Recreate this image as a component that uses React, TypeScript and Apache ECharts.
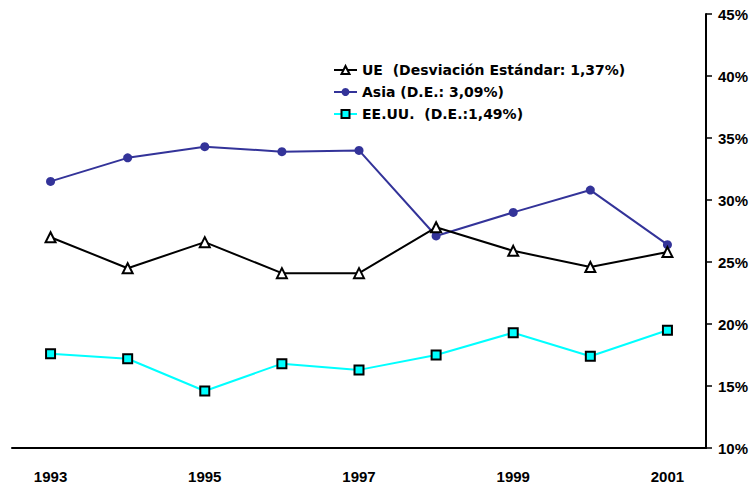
import React, { useEffect, useRef } from "react";
import * as echarts from "echarts";

// Years on the horizontal axis
const years = ["1993", "1994", "1995", "1996", "1997", "1998", "1999", "2000", "2001"];

// Annual rates (%) per region
const ueValues = [27.0, 24.5, 26.6, 24.1, 24.1, 27.8, 25.9, 24.6, 25.8];
const asiaValues = [31.5, 33.4, 34.3, 33.9, 34.0, 27.1, 29.0, 30.8, 26.4];
const usaValues = [17.6, 17.2, 14.6, 16.8, 16.3, 17.5, 19.3, 17.4, 19.5];

// Legend names
const ueName = "UE  (Desviación Estándar: 1,37%)";
const asiaName = "Asia (D.E.: 3,09%)";
const usaName = "EE.UU.  (D.E.:1,49%)";

const AXIS_FONT = "'Liberation Sans', Arial, sans-serif";
const LEGEND_FONT = "'DejaVu Sans', Verdana, sans-serif";

export default function App() {
  const ref = useRef<HTMLDivElement>(null);

  useEffect(() => {
    if (!ref.current) return;
    const chart = echarts.init(ref.current, null, { renderer: "svg" });
    chart.setOption({
      animation: false,
      backgroundColor: "#ffffff",
      textStyle: { fontFamily: AXIS_FONT },
      grid: { left: 12, right: 49, top: 14, bottom: 40, containLabel: false },
      legend: {
        orient: "vertical",
        left: 328,
        top: 58,
        itemWidth: 23,
        itemHeight: 10,
        itemGap: 8,
        textStyle: { fontFamily: LEGEND_FONT, fontWeight: "bold", fontSize: 14, color: "#000" },
        data: [ueName, asiaName, usaName],
      },
      xAxis: {
        type: "category",
        data: years,
        boundaryGap: true,
        axisLine: { lineStyle: { color: "#000", width: 2 } },
        axisTick: { interval: 1, length: 6, lineStyle: { color: "#000", width: 1.5 } },
        axisLabel: {
          interval: 1,
          margin: 21,
          fontFamily: AXIS_FONT,
          fontWeight: "bold",
          fontSize: 15,
          color: "#000",
        },
        splitLine: { show: false },
      },
      yAxis: {
        type: "value",
        position: "right",
        min: 10,
        max: 45,
        interval: 5,
        axisLine: { show: true, lineStyle: { color: "#000", width: 2 } },
        axisTick: { show: true, length: 6, lineStyle: { color: "#000", width: 1.5 } },
        axisLabel: {
          margin: 12,
          fontFamily: AXIS_FONT,
          fontWeight: "bold",
          fontSize: 15,
          color: "#000",
          formatter: "{value}%",
        },
        splitLine: { show: false },
      },
      series: [
        {
          name: ueName,
          type: "line",
          data: ueValues,
          symbol: "triangle",
          symbolSize: 10,
          lineStyle: { color: "#000", width: 2 },
          itemStyle: { color: "#ffffff", borderColor: "#000", borderWidth: 2 },
          z: 3,
        },
        {
          name: asiaName,
          type: "line",
          data: asiaValues,
          symbol: "circle",
          symbolSize: 9,
          lineStyle: { color: "#333399", width: 2 },
          itemStyle: { color: "#333399", borderColor: "#333399", borderWidth: 0 },
          z: 2,
        },
        {
          name: usaName,
          type: "line",
          data: usaValues,
          symbol: "rect",
          symbolSize: 9,
          lineStyle: { color: "#00ffff", width: 2 },
          itemStyle: { color: "#00ffff", borderColor: "#000", borderWidth: 2 },
          z: 2,
        },
      ],
    });
    return () => chart.dispose();
  }, []);

  return (
    <div
      ref={ref}
      style={{ position: "fixed", left: 0, top: 0, width: 755, height: 488, background: "#fff" }}
    />
  );
}
